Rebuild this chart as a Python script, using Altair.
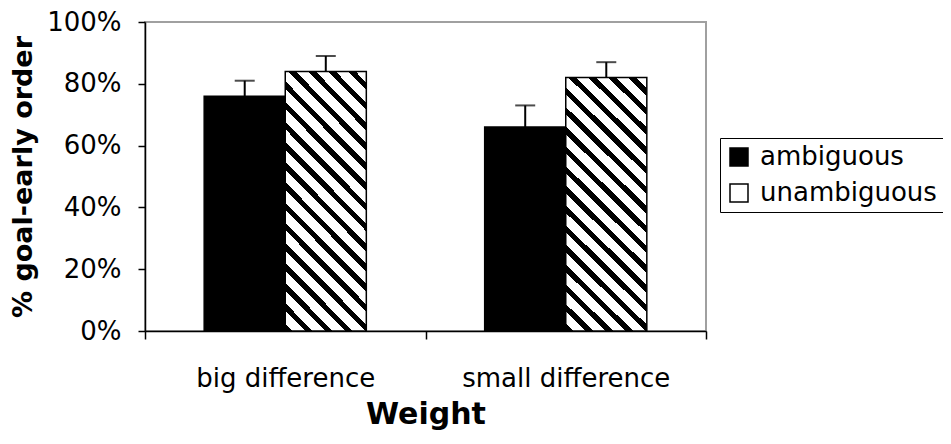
import altair as alt
import pandas as pd

# ---- data ----
weights = ["big difference", "small difference"]
types = ["ambiguous", "unambiguous"]
big_values = [0.76, 0.84]
small_values = [0.66, 0.82]
big_upper = [0.81, 0.89]
small_upper = [0.73, 0.87]
y_ticks = [0, 0.2, 0.4, 0.6, 0.8, 1.0]

rows = []
for w, vals, ups in [(weights[0], big_values, big_upper), (weights[1], small_values, small_upper)]:
    for t, v, u in zip(types, vals, ups):
        rows.append({"weight": w, "type": t, "value": v, "upper": u})
df = pd.DataFrame(rows)

FONT = "DejaVu Sans"
W, H = 561, 309
BAR_W = 81.0

# ---- diagonal hatch made from a striped linear gradient ----
hatched_vals = [big_values[1], small_values[1]]
bar_h = sum(hatched_vals) / len(hatched_vals) * H
r = bar_h / BAR_W
c = (1 + r) / (1 + r * r)
diag = (BAR_W + bar_h) / 2 ** 0.5
period = 14.1
n_per = diag / period
frac = 0.38
stops = []
k = 0
while k / n_per < 1:
    s = k / n_per
    e = min((k + frac) / n_per, 1.0)
    n = min((k + 1) / n_per, 1.0)
    stops += [
        {"offset": s, "color": "black"},
        {"offset": e, "color": "black"},
        {"offset": e, "color": "white"},
        {"offset": n, "color": "white"},
    ]
    k += 1
hatch = {"gradient": "linear", "x1": 0, "y1": 1, "x2": c, "y2": 1 - c * r, "stops": stops}

base = alt.Chart(df).encode(
    x=alt.X(
        "weight:N", sort=weights,
        scale=alt.Scale(paddingInner=0, paddingOuter=0),
        axis=alt.Axis(
            title="Weight", labelAngle=0, tickBand="extent", tickSize=8, tickColor="black",
            tickWidth=1.5, domainColor="black", domainWidth=1.5,
            labelFont=FONT, labelFontSize=26, labelColor="black", labelLimit=400,
            labelPadding=47, labelBaseline="alphabetic",
            titleFont=FONT, titleFontSize=30, titleFontWeight="bold", titleColor="black",
            titleY=92, titleBaseline="alphabetic", grid=False,
        ),
    ),
    xOffset=alt.XOffset("type:N", sort=types, scale=alt.Scale(paddingInner=0, paddingOuter=0.73)),
)

bars = base.mark_bar(stroke="black", strokeWidth=1.5).encode(
    y=alt.Y(
        "value:Q", scale=alt.Scale(domain=[0, 1]),
        axis=alt.Axis(
            values=y_ticks, format=".0%", title="% goal-early order",
            titleFont=FONT, titleFontSize=27, titleFontWeight="bold", titleColor="black",
            titleX=-122, titleBaseline="middle", titleLimit=400,
            labelFont=FONT, labelFontSize=26, labelColor="black", labelPadding=17,
            tickSize=7, tickColor="black", tickWidth=1.5,
            domainColor="black", domainWidth=1.5, grid=False,
        ),
    ),
    fill=alt.condition(
        alt.datum.type == "unambiguous",
        alt.value(hatch),
        alt.Fill(
            "type:N", sort=types,
            scale=alt.Scale(domain=types, range=["black", "white"]),
            legend=alt.Legend(
                title=None, orient="none", legendX=575, legendY=116,
                labelFont=FONT, labelFontSize=26, labelColor="black", labelLimit=400,
                symbolType="square", symbolSize=324, symbolStrokeColor="black",
                symbolStrokeWidth=1.5, symbolOpacity=1, strokeColor="black", fillColor="white",
                padding=6, rowPadding=10, labelOffset=8,
            ),
        ),
    ),
)

rules = base.mark_rule(color="black", strokeWidth=2).encode(y="value:Q", y2="upper:Q")
caps = base.mark_tick(color="black", thickness=2, size=20, orient="horizontal").encode(y="upper:Q")

chart = (
    alt.layer(bars, rules, caps)
    .properties(
        width=W, height=H,
        autosize=alt.AutoSizeParams(type="none"),
        padding={"left": 137, "top": 14, "right": 237, "bottom": 105},
        background="white",
    )
    .configure_view(stroke="#a0a0a0", strokeWidth=2)
)

chart.save("out.html", embed_options={"renderer": "svg", "actions": False})
